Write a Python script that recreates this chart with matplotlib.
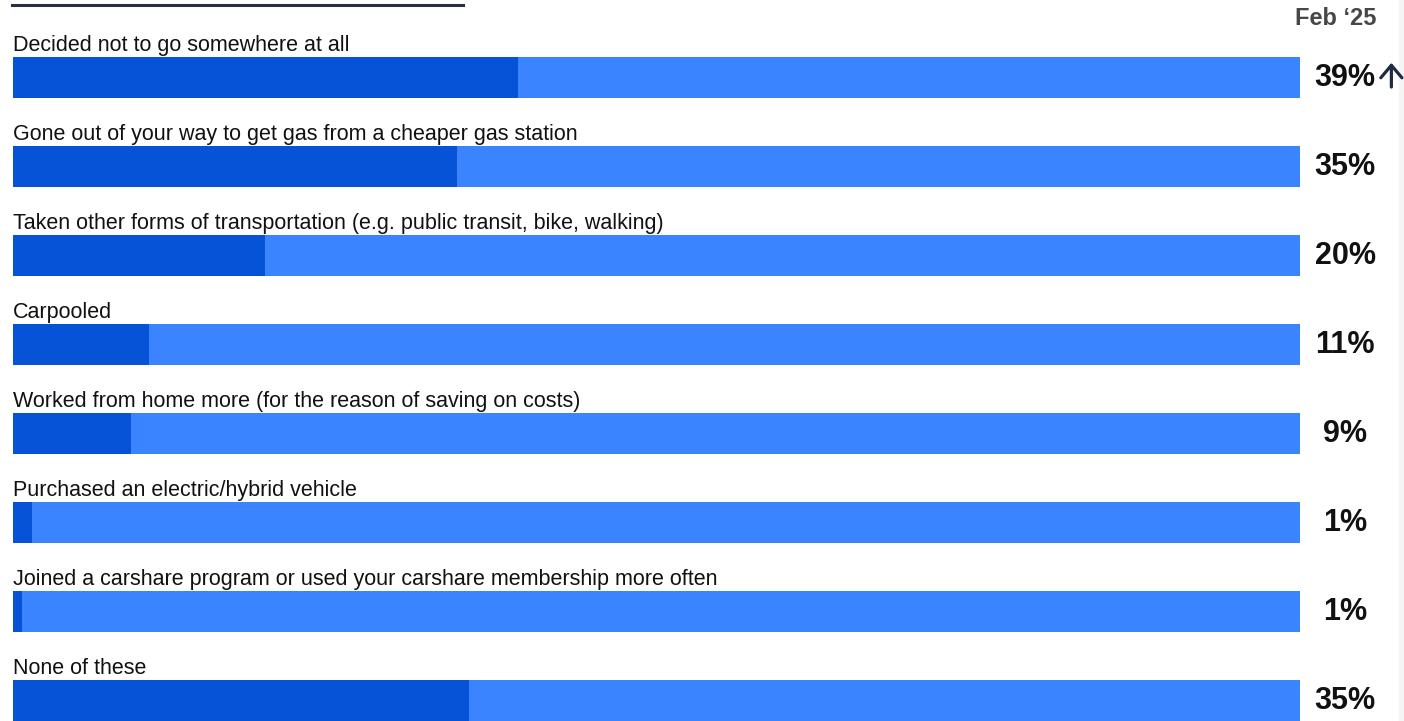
import numpy as np
import matplotlib.pyplot as plt
from matplotlib.lines import Line2D
from matplotlib.patches import Rectangle

plt.rcParams['font.family'] = ['Liberation Sans', 'DejaVu Sans']

categories = [
    "Decided not to go somewhere at all",
    "Gone out of your way to get gas from a cheaper gas station",
    "Taken other forms of transportation (e.g. public transit, bike, walking)",
    "Carpooled",
    "Worked from home more (for the reason of saving on costs)",
    "Purchased an electric/hybrid vehicle",
    "Joined a carshare program or used your carshare membership more often",
    "None of these",
]
values = [39.2, 34.5, 19.6, 10.6, 9.2, 1.5, 0.7, 35.4]
labels = ["39%", "35%", "20%", "11%", "9%", "1%", "1%", "35%"]
period = "Feb \u201825"

dark = "#0653D8"
light = "#3A85FF"

fig = plt.figure(figsize=(14.04, 7.21), dpi=100)
ax = fig.add_axes([0, 0, 1, 1])
ax.set_xlim(-13 / 12.87, (1404 - 13) / 12.87)
ax.set_ylim((721 - 77.5) / 89, -77.5 / 89)
ax.axis("off")

y = np.arange(len(categories))
ax.barh(y, [100] * len(y), height=0.46, color=light, linewidth=0)
ax.barh(y, values, height=0.46, color=dark, linewidth=0)

for i, (cat, lab) in enumerate(zip(categories, labels)):
    ax.text(0, i - 0.298, cat, fontsize=15.5, va="baseline", ha="left", color="#111111")
    ax.text(103.5, i + 0.1, lab, fontsize=22, fontweight="bold",
            va="baseline", ha="center", color="#111111")

ax.text(102.8, -0.59, period, fontsize=17, fontweight="bold",
        va="baseline", ha="center", color="#474747")

# up arrow next to first value
ax.annotate("", xy=(107.1, -0.165), xytext=(107.1, 0.107),
            arrowprops=dict(arrowstyle="->, head_length=0.45, head_width=0.38",
                            lw=2.3, color="#1f2a44", mutation_scale=20,
                            shrinkA=0, shrinkB=0))

# underline of the cut-off title
fig.add_artist(Line2D([12 / 1404, 463 / 1404], [1 - 5.3 / 721, 1 - 5.3 / 721],
                      color="#2a3042", linewidth=2.2))
fig.add_artist(Rectangle((1399 / 1404, 0), 5 / 1404, 1, color="#f5f5f5",
                         transform=fig.transFigure, zorder=-1))

fig.savefig("out.png", dpi=100)
